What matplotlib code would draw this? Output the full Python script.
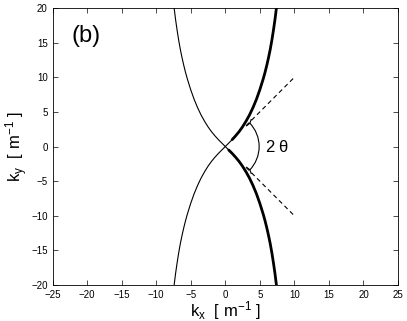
import matplotlib
matplotlib.use("Agg")
import matplotlib.pyplot as plt
from matplotlib.patches import Arc

plt.rcParams['font.family'] = ['Liberation Sans', 'DejaVu Sans']
plt.rcParams['mathtext.fontset'] = 'custom'
plt.rcParams['mathtext.rm'] = 'Liberation Sans'
plt.rcParams['mathtext.it'] = 'Liberation Sans'

# branch (kx >= 0, upper right)
branch_kx = [0, 0.5, 1, 1.5, 2, 2.5, 3, 3.5, 4, 4.5, 5, 5.25, 5.5, 5.75, 6,
             6.25, 6.5, 6.75, 7.0, 7.2, 7.4]
branch_ky = [0, 0.5, 1.0, 1.55, 2.15, 2.85, 3.65, 4.55, 5.6, 6.8, 8.2, 9.0,
             9.8, 10.7, 11.7, 12.8, 14.0, 15.4, 17.0, 18.4, 20.0]

# full curves through the origin
curve_a_kx = [-v for v in branch_kx[::-1]] + branch_kx[1:]
curve_a_ky = [-v for v in branch_ky[::-1]] + branch_ky[1:]
curve_b_kx = curve_a_kx
curve_b_ky = [-v for v in curve_a_ky]

# tangent lines
tan_kx = [3.0, 10.0]
tan_up_ky = [3.0, 10.0]
tan_dn_ky = [-3.0, -10.0]

x_ticks = [-25, -20, -15, -10, -5, 0, 5, 10, 15, 20, 25]
y_ticks = [-20, -15, -10, -5, 0, 5, 10, 15, 20]

fig = plt.figure(figsize=(4.07, 3.21), dpi=100)
ax = fig.add_axes([0.129, 0.112, 0.849, 0.863])

ax.plot(curve_a_kx, curve_a_ky, color='k', lw=0.8)
ax.plot(curve_b_kx, curve_b_ky, color='k', lw=0.8)
ax.plot(branch_kx[2:], branch_ky[2:], color='k', lw=2.0, solid_capstyle='round')
ax.plot(branch_kx[1:], [-v for v in branch_ky[1:]], color='k', lw=2.0, solid_capstyle='round')

ax.plot(tan_kx, tan_up_ky, 'k--', lw=0.8, dashes=(4, 3))
ax.plot(tan_kx, tan_dn_ky, 'k--', lw=0.8, dashes=(4, 3))

# angle arc
ax.add_patch(Arc((0, 0), 9.8, 9.8, theta1=-44, theta2=44, color='k', lw=0.8))
for sgn in (1, -1):
    ax.plot([3.1, 3.55, 3.75], [sgn * 3.0, sgn * 3.35, sgn * 3.9], color='k', lw=0.8)
ax.text(5.8, 0, r'2 $\theta$', fontsize=12, va='center', ha='left')

ax.text(-22.2, 16.0, '(b)', fontsize=17, va='center', ha='left')

ax.set_xlim(-25, 25)
ax.set_ylim(-20, 20)
ax.set_xticks(x_ticks)
ax.set_yticks(y_ticks)
ax.tick_params(direction='in', top=True, right=True, labelsize=7, length=3.5, width=0.5)
for s in ax.spines.values():
    s.set_linewidth(0.6)

ax.set_xlabel(r'$\mathregular{k_x\ \ [\ m^{-1}\ ]}$', fontsize=12, labelpad=-0.5)
ax.set_ylabel(r'$\mathregular{k_y\ \ [\ m^{-1}\ ]}$', fontsize=12, labelpad=1)

fig.savefig('out.png', dpi=100)
